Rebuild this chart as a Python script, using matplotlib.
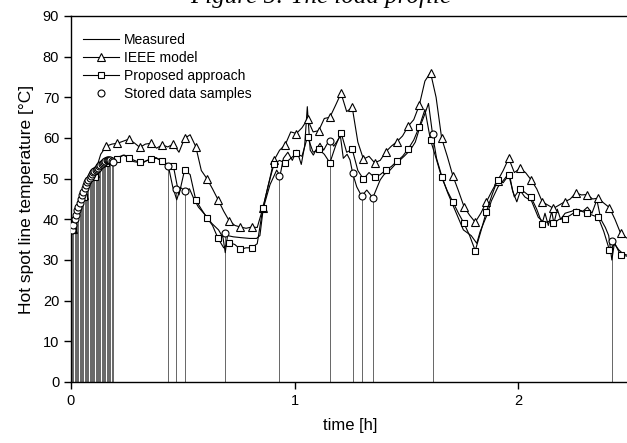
import numpy as np
import matplotlib
matplotlib.use("Agg")
import matplotlib.pyplot as plt

plt.rcParams['font.family'] = ['Liberation Sans', 'DejaVu Sans']

# model curves share one time grid (markers every second point)
t_model = np.round(np.arange(0.008, 2.51, 0.025), 3)

ieee = [37.5, 42.0, 46.0, 49.0, 51.5, 56.0, 58.0, 58.5, 58.7, 59.2,
        59.7, 58.8, 57.7, 58.5, 58.7, 57.5, 58.3, 57.8, 58.5, 56.5,
        59.9, 60.8, 57.9, 52.0, 50.0, 47.5, 44.8, 42.0, 39.6, 38.5,
        38.1, 37.8, 38.1, 38.0, 42.7, 48.5, 54.5, 57.0, 58.3, 61.5,
        61.1, 62.5, 64.6, 61.5, 61.8, 64.8, 65.1, 68.0, 71.0, 66.5,
        67.5, 59.0, 54.8, 55.5, 53.9, 54.5, 56.6, 58.0, 59.1, 60.5,
        62.9, 64.5, 68.1, 74.0, 76.1, 70.0, 59.9, 55.5, 50.7, 47.0,
        43.1, 41.0, 39.3, 41.5, 44.3, 47.0, 49.5, 52.0, 55.0, 51.5,
        52.5, 51.5, 49.7, 47.5, 44.3, 43.5, 42.7, 43.5, 44.3, 45.0,
        46.5, 46.0, 46.1, 45.0, 45.2, 44.0, 42.9, 40.0, 36.6, 35.5,
        34.8]

proposed = [37.4, 41.5, 45.5, 48.5, 50.5, 52.3, 53.8, 54.4, 54.8, 55.8,
            55.2, 54.5, 54.0, 54.3, 54.8, 55.0, 54.4, 53.5, 53.1, 46.0,
            52.1, 51.0, 44.8, 42.5, 40.4, 38.5, 35.3, 33.0, 34.3, 33.8,
            32.6, 33.0, 33.0, 34.0, 42.7, 48.5, 53.6, 54.5, 53.8, 55.0,
            56.2, 55.5, 60.3, 56.5, 57.2, 56.0, 53.9, 58.0, 61.3, 56.5,
            57.2, 52.0, 49.9, 51.5, 50.3, 51.0, 52.1, 53.0, 54.3, 55.5,
            57.3, 59.5, 62.8, 67.0, 59.5, 55.0, 50.3, 47.0, 44.3, 41.5,
            39.0, 36.0, 32.3, 37.0, 41.9, 46.0, 49.7, 49.0, 50.9, 45.5,
            47.5, 46.5, 45.4, 42.5, 38.8, 39.5, 39.0, 40.0, 40.2, 41.0,
            41.9, 42.0, 41.5, 41.0, 40.5, 37.0, 32.5, 34.0, 31.2, 31.0,
            30.5]

meas_t = [0.0, 0.006, 0.018, 0.03, 0.04, 0.05, 0.06, 0.07, 0.08, 0.09,
          0.1, 0.12, 0.14, 0.155, 0.17, 0.185, 0.2, 0.22, 0.24, 0.26,
          0.28, 0.3, 0.32, 0.34, 0.36, 0.38, 0.4, 0.42, 0.435, 0.455,
          0.473, 0.49, 0.51, 0.53, 0.55, 0.57, 0.6, 0.63, 0.66, 0.68,
          0.69, 0.7, 0.726, 0.76, 0.8, 0.83, 0.845, 0.86, 0.89, 0.92,
          0.935, 0.95, 0.97, 0.99, 1.01, 1.03, 1.045, 1.057, 1.07, 1.084,
          1.1, 1.114, 1.13, 1.145, 1.16, 1.175, 1.189, 1.205, 1.218, 1.235,
          1.248, 1.26, 1.278, 1.3, 1.323, 1.35, 1.383, 1.4, 1.427, 1.45,
          1.472, 1.49, 1.517, 1.54, 1.561, 1.58, 1.599, 1.617, 1.635, 1.659,
          1.685, 1.711, 1.735, 1.755, 1.79, 1.815, 1.83, 1.86, 1.88, 1.91,
          1.94, 1.96, 1.975, 1.994, 2.01, 2.03, 2.06, 2.09, 2.11, 2.12,
          2.135, 2.15, 2.16, 2.175, 2.19, 2.21, 2.24, 2.26, 2.29, 2.31,
          2.33, 2.352, 2.37, 2.39, 2.405, 2.419, 2.43, 2.45, 2.47, 2.5]
meas_v = [37.0, 37.4, 40.3, 42.5, 44.3, 46.0, 47.7, 48.9, 49.9, 50.9,
          51.8, 52.6, 53.8, 54.4, 54.6, 54.2, 54.8, 55.5, 55.8, 55.0,
          54.2, 54.0, 53.8, 54.5, 54.8, 55.2, 54.5, 54.0, 53.2, 48.0,
          44.8, 47.8, 47.0, 47.5, 45.0, 43.0, 41.1, 39.0, 37.4, 35.5,
          31.8, 36.0, 35.7, 35.5, 35.3, 35.3, 36.0, 42.7, 48.5, 52.1,
          50.7, 55.0, 56.5, 54.5, 57.0, 53.5, 58.0, 67.7, 57.0, 55.8,
          57.5, 58.7, 57.0, 58.5, 59.3, 58.0, 59.1, 60.5, 55.0, 56.0,
          54.6, 51.3, 48.0, 45.7, 47.2, 45.3, 49.7, 51.0, 52.1, 53.5,
          54.6, 55.5, 57.0, 59.0, 62.8, 65.5, 68.5, 61.0, 55.0, 50.5,
          46.5, 43.1, 40.0, 37.4, 36.0, 34.1, 37.0, 41.0, 44.5, 48.0,
          50.0, 51.5, 47.0, 44.3, 47.0, 45.5, 44.5, 40.5, 39.5, 41.5,
          38.5, 42.0, 39.0, 42.5, 40.0, 41.5, 42.0, 42.5, 42.0, 43.0,
          41.5, 44.8, 40.0, 38.0, 36.0, 30.0, 34.0, 32.5, 31.5, 31.0]

sample_t = [0.006, 0.011, 0.017, 0.022, 0.028, 0.033, 0.039, 0.044, 0.05, 0.055,
            0.061, 0.066, 0.072, 0.077, 0.083, 0.088, 0.094, 0.099, 0.105, 0.11,
            0.116, 0.121, 0.127, 0.132, 0.138, 0.143, 0.149, 0.154, 0.16, 0.165,
            0.171, 0.176, 0.182, 0.187, 0.435, 0.47, 0.51, 0.69, 0.932, 1.159,
            1.26, 1.30, 1.35, 1.617, 2.419]
sample_v = [37.4, 38.6, 40.1, 41.1, 42.2, 43.0, 44.1, 45.0, 46.0, 46.8,
            47.8, 48.4, 49.1, 49.6, 50.2, 50.7, 51.2, 51.7, 52.0, 52.2,
            52.4, 52.7, 53.0, 53.3, 53.7, 53.9, 54.1, 54.4, 54.5, 54.5,
            54.6, 54.5, 54.3, 54.2, 53.2, 47.4, 47.0, 36.6, 50.7, 59.3,
            51.3, 45.7, 45.3, 61.0, 34.7]

fig = plt.figure(figsize=(6.27, 4.43), dpi=100)
ax = fig.add_axes([0.1132, 0.1377, 0.8915, 0.8262])

ax.vlines(sample_t, 0, sample_v, colors='0.4', lw=0.7, zorder=1)
ax.plot(meas_t, meas_v, color='black', lw=0.8, label='Measured', zorder=2)
ax.plot(t_model, ieee, color='black', lw=0.8, marker='^', markevery=(0, 2),
        ms=6, mfc='white', mec='black', mew=0.8, label='IEEE model', zorder=3)
ax.plot(t_model, proposed, color='black', lw=0.8, marker='s', markevery=(0, 2),
        ms=5, mfc='white', mec='black', mew=0.8, label='Proposed approach', zorder=3)
ax.plot(sample_t, sample_v, ls='none', marker='o', ms=5, mfc='white',
        mec='black', mew=0.8, label='Stored data samples', zorder=4)

ax.set_xlim(0, 2.5)
ax.set_ylim(0, 90)
ax.set_xticks([0, 1, 2])
ax.set_yticks(range(0, 91, 10))
ax.tick_params(direction='out', length=5, width=1, labelsize=10.5)
for s in ax.spines.values():
    s.set_linewidth(1.0)

ax.set_xlabel('time [h]', fontsize=12, labelpad=7)
ax.set_ylabel('Hot spot line temperature [°C]', fontsize=12.5, labelpad=6)

ax.legend(loc='upper left', frameon=False, fontsize=10, handlelength=2.6,
          handletextpad=0.3, labelspacing=0.3, borderaxespad=0.0,
          bbox_to_anchor=(0.012, 0.97))

fig.text(0.512, 0.993, 'Figure 5: The load profile', ha='center', va='baseline',
         fontsize=18, fontstyle='italic', family='Liberation Serif')

fig.savefig('out.png', dpi=100)
